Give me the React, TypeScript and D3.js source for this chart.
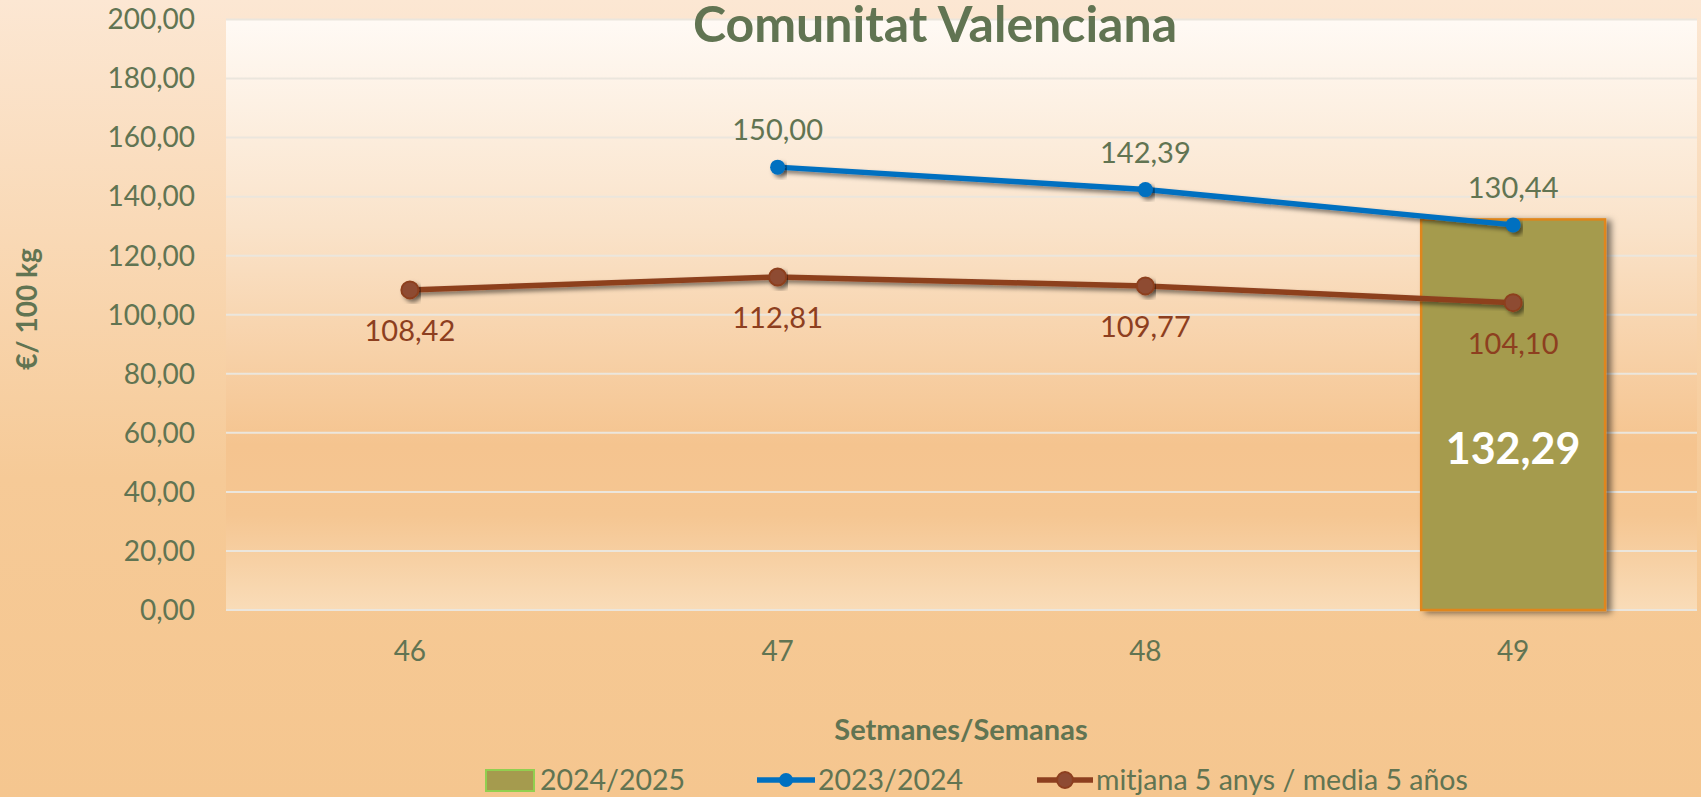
import * as d3 from "d3";

const weeks = ["46", "47", "48", "49"];
const season2425: (number | null)[] = [null, null, null, 132.29];
const season2324: (number | null)[] = [null, 150.0, 142.39, 130.44];
const average5: number[] = [108.42, 112.81, 109.77, 104.1];
const yTicks = [0, 20, 40, 60, 80, 100, 120, 140, 160, 180, 200];
const legendLabels = ["2024/2025", "2023/2024", "mitjana 5 anys / media 5 años"];

const W = 1701;
const H = 797;
const plot = { left: 226, right: 1697, top: 19.5, bottom: 610 };

const TEXT = "#617452";
const BLUE = "#0070c0";
const BROWN = "#8d3f1f";
const FONT = "Lato, 'Open Sans', sans-serif";

const fmt = d3
  .formatLocale({ decimal: ",", thousands: ".", grouping: [3], currency: ["", "€"] })
  .format(".2f");

export default function App() {
  const x = d3.scaleBand().domain(weeks).range([plot.left, plot.right]);
  const y = d3.scaleLinear().domain([0, 200]).range([plot.bottom, plot.top]);
  const cx = (w: string) => (x(w) ?? 0) + x.bandwidth() / 2;
  const bw = x.bandwidth() * 0.5;

  const pts2324 = weeks
    .map((w, i) => ({ w, v: season2324[i] }))
    .filter((d) => d.v != null) as { w: string; v: number }[];
  const ptsAvg = weeks.map((w, i) => ({ w, v: average5[i] }));

  const line = d3
    .line<{ w: string; v: number }>()
    .x((d) => cx(d.w))
    .y((d) => y(d.v));

  return (
    <svg
      width={W}
      height={H}
      style={{ position: "absolute", left: 0, top: 0, fontFamily: FONT }}
    >
      <defs>
        <linearGradient id="bg" x1="0" y1="0" x2="0" y2="1">
          <stop offset="0" stopColor="#fce7d3" />
          <stop offset="0.6" stopColor="#f6ca97" />
          <stop offset="1" stopColor="#f5c68f" />
        </linearGradient>
        <linearGradient id="plotbg" x1="0" y1="0" x2="0" y2="1">
          <stop offset="0" stopColor="#fffaf5" />
          <stop offset="0.35" stopColor="#fae3ca" />
          <stop offset="0.72" stopColor="#f5c48f" />
          <stop offset="0.84" stopColor="#f5c692" />
          <stop offset="1" stopColor="#f9dcb8" />
        </linearGradient>
        <filter id="shadow" x="-10%" y="-30%" width="120%" height="160%">
          <feDropShadow dx="3" dy="3" stdDeviation="2" floodColor="#000" floodOpacity="0.5" />
        </filter>
        <filter id="barShadow" x="-10%" y="-5%" width="130%" height="110%">
          <feDropShadow dx="5" dy="2" stdDeviation="3" floodColor="#000" floodOpacity="0.5" />
        </filter>
      </defs>

      <rect width={W} height={H} fill="url(#bg)" />
      <rect
        x={plot.left}
        y={plot.top}
        width={plot.right - plot.left}
        height={plot.bottom - plot.top}
        fill="url(#plotbg)"
      />

      {/* grid lines */}
      {yTicks.map((t) => (
        <line
          key={t}
          x1={plot.left}
          x2={plot.right}
          y1={y(t)}
          y2={y(t)}
          stroke="#ebe6dd"
          strokeWidth={2}
        />
      ))}

      {/* y axis labels */}
      {yTicks.map((t) => (
        <text
          key={t}
          x={195}
          y={y(t)}
          dy="0.35em"
          textAnchor="end"
          fontSize={28}
          fill={TEXT}
        >
          {fmt(t)}
        </text>
      ))}

      {/* bars */}
      {weeks.map((w, i) =>
        season2425[i] == null ? null : (
          <g key={w}>
            <rect
              x={cx(w) - bw / 2}
              y={y(season2425[i] as number)}
              width={bw}
              height={y(0) - y(season2425[i] as number)}
              fill="#a59b4e"
              stroke="#e0861c"
              strokeWidth={2.5}
              filter="url(#barShadow)"
            />
            <text
              x={cx(w)}
              y={449}
              dy="0.35em"
              textAnchor="middle"
              fontSize={43}
              fontWeight="bold"
              fill="#fff"
            >
              {fmt(season2425[i] as number)}
            </text>
          </g>
        ),
      )}

      {/* lines */}
      <path d={line(ptsAvg) ?? ""} fill="none" stroke={BROWN} strokeWidth={5.5} filter="url(#shadow)" />
      <path d={line(pts2324) ?? ""} fill="none" stroke={BLUE} strokeWidth={5.5} filter="url(#shadow)" />
      {ptsAvg.map((d) => (
        <circle
          key={d.w}
          cx={cx(d.w)}
          cy={y(d.v)}
          r={8.5}
          fill="#8e4b33"
          stroke={BROWN}
          strokeWidth={2}
          filter="url(#shadow)"
        />
      ))}
      {pts2324.map((d) => (
        <circle key={d.w} cx={cx(d.w)} cy={y(d.v)} r={7.5} fill={BLUE} filter="url(#shadow)" />
      ))}

      {/* data labels */}
      {pts2324.map((d) => (
        <text
          key={d.w}
          x={cx(d.w)}
          y={y(d.v) - 37}
          dy="0.35em"
          textAnchor="middle"
          fontSize={29}
          fill={TEXT}
        >
          {fmt(d.v)}
        </text>
      ))}
      {ptsAvg.map((d) => (
        <text
          key={d.w}
          x={cx(d.w)}
          y={y(d.v) + 41}
          dy="0.35em"
          textAnchor="middle"
          fontSize={29}
          fill={BROWN}
        >
          {fmt(d.v)}
        </text>
      ))}

      {/* x axis labels */}
      {weeks.map((w) => (
        <text key={w} x={cx(w)} y={651} dy="0.35em" textAnchor="middle" fontSize={28} fill={TEXT}>
          {w}
        </text>
      ))}

      {/* titles */}
      <text x={935} y={42} textAnchor="middle" fontSize={50} fontWeight="bold" fill={TEXT}>
        Comunitat Valenciana
      </text>
      <text x={961} y={730} dy="0.35em" textAnchor="middle" fontSize={29} fontWeight="bold" fill={TEXT}>
        Setmanes/Semanas
      </text>
      <text
        transform="translate(27,309) rotate(-90)"
        dy="0.35em"
        textAnchor="middle"
        fontSize={28}
        fontWeight="bold"
        fill={TEXT}
      >
        €/ 100 kg
      </text>

      {/* legend */}
      <g fontSize={28.5} fill={TEXT}>
        <rect x={486} y={770} width={48} height={21} fill="#a59b4e" stroke="#92cf50" strokeWidth={2} />
        <text x={540} y={780} dy="0.35em">
          {legendLabels[0]}
        </text>
        <line x1={757} x2={815} y1={780} y2={780} stroke={BLUE} strokeWidth={5.5} />
        <circle cx={786} cy={780} r={7} fill={BLUE} />
        <text x={818} y={780} dy="0.35em">
          {legendLabels[1]}
        </text>
        <line x1={1037} x2={1093} y1={780} y2={780} stroke={BROWN} strokeWidth={5.5} />
        <circle cx={1065} cy={780} r={8} fill="#8e4b33" stroke={BROWN} strokeWidth={2} />
        <text x={1096} y={780} dy="0.35em">
          {legendLabels[2]}
        </text>
      </g>
    </svg>
  );
}
